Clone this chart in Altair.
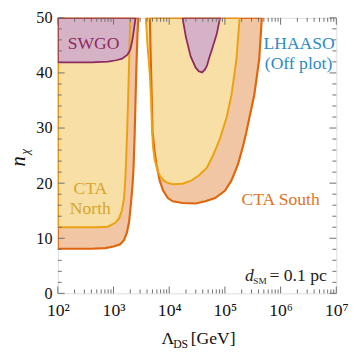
import altair as alt
import pandas as pd

# ---- data: exponents e of Lambda_DS = 10^e GeV, and n_chi ----
# CTA South, low-Lambda region (boundary from left edge to top)
south1_exp = [2.0, 2.6, 2.85, 3.0, 3.12, 3.19, 3.24, 3.28, 3.31, 3.34, 3.36, 3.38, 3.395, 3.41, 3.43, 3.445]
south1_n = [8.1, 8.1, 8.2, 8.5, 8.9, 9.7, 11.0, 13.0, 16.0, 19.5, 23.0, 29.0, 35.0, 41.0, 47.0, 50.0]
# CTA South, high-Lambda region (top-left -> bottom -> top-right)
south2_exp = [3.652, 3.665, 3.68, 3.70, 3.735, 3.77, 3.828, 3.888, 3.975, 4.063, 4.239, 4.473,
              4.648, 4.824, 5.0, 5.118, 5.234, 5.322, 5.38, 5.44, 5.527, 5.615, 5.663]
south2_n = [50.0, 44.0, 38.0, 29.3, 26.0, 23.4, 20.5, 18.7, 17.3, 16.7, 16.4, 16.3,
            16.7, 17.3, 18.6, 20.5, 23.4, 26.6, 29.0, 31.9, 36.0, 42.4, 50.0]
# CTA North
north1_exp = [2.0, 2.7, 2.9, 3.03, 3.10, 3.15, 3.185, 3.205, 3.22, 3.24, 3.26, 3.28, 3.30]
north1_n = [12.0, 12.0, 12.1, 12.8, 13.6, 15.0, 17.0, 19.5, 22.5, 28.0, 34.5, 42.0, 50.0]
north2_exp = [3.58, 3.61, 3.65, 3.675, 3.69, 3.71, 3.74, 3.79, 3.84, 3.90, 3.96, 4.063, 4.239,
              4.385, 4.531, 4.678, 4.794, 4.912, 4.97, 5.03, 5.118, 5.206, 5.264]
north2_n = [50.0, 45.0, 40.0, 35.0, 30.0, 26.5, 24.2, 22.3, 21.2, 20.5, 20.1, 19.8, 19.9,
            20.4, 21.4, 22.8, 25.2, 28.1, 30.0, 31.9, 36.0, 42.4, 50.0]
# SWGO
swgo1_exp = [2.0, 2.6, 2.9, 3.05, 3.155, 3.25, 3.30, 3.335, 3.36, 3.395]
swgo1_n = [41.9, 41.9, 42.05, 42.3, 42.6, 43.3, 44.2, 45.8, 47.4, 50.0]
swgo2_exp = [4.239, 4.30, 4.385, 4.473, 4.53, 4.59, 4.64, 4.678, 4.72, 4.766, 4.854, 4.912]
swgo2_n = [50.0, 46.5, 43.0, 41.0, 40.3, 40.1, 40.6, 41.3, 42.8, 44.2, 47.1, 50.0]

x_tick_exps = [2, 3, 4, 5, 6, 7]
y_tick_values = [0, 10, 20, 30, 40, 50]

W, H = 285, 282
FONT = "Liberation Serif"
AX = "#6e6e6e"

C_SOUTH_FILL, C_SOUTH_LINE, C_SOUTH_TEXT = "#F0C6A5", "#E0660E", "#E07426"
C_NORTH_FILL, C_NORTH_LINE, C_NORTH_TEXT = "#F7DFA6", "#EBA20E", "#D9A62A"
C_SWGO_FILL, C_SWGO_LINE = "#D5B2C6", "#8E2A5E"
C_LHAASO = "#2E8BC4"

xs = alt.Scale(type="log", domain=[1e2, 1e7], nice=False)
ys = alt.Scale(domain=[0, 50], nice=False, zero=False)

XA = alt.Axis(values=[10 ** e for e in x_tick_exps],
              labelExpr="'10' + ['\u2070','\u00b9','\u00b2','\u00b3','\u2074','\u2075','\u2076','\u2077'][round(log(datum.value)/LN10)]",
              ticks=False, domain=False, grid=False, labelFont=FONT, labelFontSize=18,
              labelColor="#111", labelPadding=9, labelFlush=False, labelOverlap=False,
              labelBound=False, title=None)
YA = alt.Axis(values=y_tick_values, ticks=False, domain=False, grid=False, labelFont=FONT,
              labelFontSize=16.5, labelColor="#111", labelPadding=6, labelOverlap=False, title=None)


def X(field="L:Q"):
    return alt.X(field, scale=xs, axis=XA)


def Y(field="n:Q"):
    return alt.Y(field, scale=ys, axis=YA)


def poly(exps, ns, region):
    pts = list(zip(exps, ns))
    if pts[0][1] < 50:
        pts = [(exps[0], 50.0)] + pts
    pts = pts + [pts[0]]
    return pd.DataFrame({
        "L": [10 ** e for e, _ in pts],
        "n": [v for _, v in pts],
        "order": list(range(len(pts))),
        "region": region,
    })


south = pd.concat([poly(south1_exp, south1_n, "a"), poly(south2_exp, south2_n, "b")])
north = pd.concat([poly(north1_exp, north1_n, "a"), poly(north2_exp, north2_n, "b")])
swgo = pd.concat([poly(swgo1_exp, swgo1_n, "a"), poly(swgo2_exp, swgo2_n, "b")])


def enc(ch):
    return ch.encode(x=X(), y=Y(), order=alt.Order("order:Q"), detail="region:N")


fills = [
    enc(alt.Chart(south).mark_line(fill=C_SOUTH_FILL, strokeOpacity=0, clip=True)),
    enc(alt.Chart(north).mark_line(fill=C_NORTH_FILL, strokeOpacity=0, clip=True)),
    enc(alt.Chart(swgo).mark_line(fill=C_SWGO_FILL, strokeOpacity=0, clip=True)),
]
lines = [
    enc(alt.Chart(south).mark_line(color=C_SOUTH_LINE, strokeWidth=2.2, clip=True)),
    enc(alt.Chart(north).mark_line(color=C_NORTH_LINE, strokeWidth=2.0, clip=True)),
    enc(alt.Chart(swgo).mark_line(color=C_SWGO_LINE, strokeWidth=1.8, clip=True)),
]

# ---- inward ticks on all four sides ----
x_major = [10 ** e for e in x_tick_exps]
x_minor = [k * 10 ** d for d in range(2, 7) for k in range(2, 10)]
y_minor = [v for v in range(0, 51, 2) if v % 10 != 0]
ticks = []
for vals, ln in ((x_major, 7), (x_minor, 4)):
    d = pd.DataFrame({"L": vals})
    base = alt.Chart(d).mark_rule(color=AX, strokeWidth=1)
    ticks.append(base.encode(x=X(), y=alt.value(H), y2=alt.value(H - ln)))
    ticks.append(base.encode(x=X(), y=alt.value(0), y2=alt.value(ln)))
for vals, ln in ((y_tick_values, 7), (y_minor, 4)):
    d = pd.DataFrame({"n": vals})
    base = alt.Chart(d).mark_rule(color=AX, strokeWidth=1)
    ticks.append(base.encode(y=Y(), x=alt.value(0), x2=alt.value(ln)))
    ticks.append(base.encode(y=Y(), x=alt.value(W), x2=alt.value(W - ln)))


# ---- in-plot labels (data coordinates) ----
def label(L, n, text, color, size=18, style="normal", align="center", baseline="middle", dx=0, dy=0):
    d = pd.DataFrame({"L": [L], "n": [n], "t": [text]})
    return alt.Chart(d).mark_text(font=FONT, fontSize=size, fontStyle=style, color=color,
                                  align=align, baseline=baseline, dx=dx, dy=dy).encode(
        x=X(), y=Y(), text="t:N")


texts = [
    label(438, 45.2, "SWGO", C_SWGO_LINE),
    label(383, 18.9, "CTA", C_NORTH_TEXT),
    label(383, 15.35, "North", C_NORTH_TEXT),
    label(1.0e6, 16.9, "CTA South", C_SOUTH_TEXT),
    label(2.15e6, 45.2, "LHAASO", C_LHAASO),
    label(2.1e6, 41.6, "(Off plot)", C_LHAASO),
    label(2.3e5, 2.3, "d", "#222", style="italic", align="left", baseline="alphabetic"),
    label(2.3e5, 2.3, "SM", "#222", size=9.5, align="left", baseline="alphabetic", dx=8.5, dy=3),
    label(2.3e5, 2.3, "= 0.1 pc", "#222", align="left", baseline="alphabetic", dx=25),
]


# ---- axis titles (pixel placement) ----
def ptext(x, y, text, size=18, style="normal", angle=0, align="left", baseline="alphabetic"):
    return alt.Chart(pd.DataFrame({"a": [0]})).mark_text(
        font=FONT, fontSize=size, fontStyle=style, color="#111", align=align,
        baseline=baseline, angle=angle).encode(x=alt.value(x), y=alt.value(y), text=alt.value(text))


titles = [
    ptext(106, 334, "\u039b"),
    ptext(118, 337.5, "DS", size=12),
    ptext(136, 334, "[GeV]"),
    ptext(-40, 147, "n", size=21, style="italic", angle=270, align="center", baseline="middle"),
    ptext(-33, 137, "\u03c7", size=13, style="italic", angle=270, align="center", baseline="middle"),
]

chart = alt.layer(*fills, *lines, *ticks, *texts, *titles).properties(
    width=W, height=H,
    padding={"left": 51, "top": 6, "right": 13, "bottom": 58},
    autosize=alt.AutoSizeParams(type="none"),
).configure_view(stroke=AX, strokeWidth=1).configure(font=FONT)

chart.save("out.html", embed_options={"renderer": "svg", "actions": False})
